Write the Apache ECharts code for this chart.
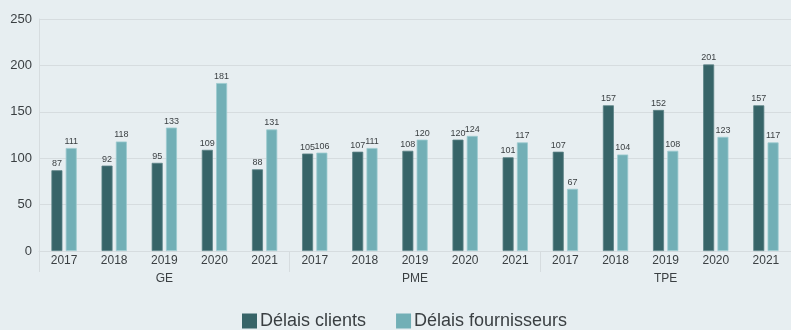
<!DOCTYPE html>
<html>
<head>
<meta charset="utf-8">
<script src="https://cdn.jsdelivr.net/npm/echarts@6/dist/echarts.min.js"></script>
<style>
  html, body { margin: 0; padding: 0; background: #e7eef1; }
  #chart { width: 791px; height: 330px; }
</style>
</head>
<body>
<div id="chart"></div>
<script>
// Company size groups and years
const groups = ['GE', 'PME', 'TPE'];
const years = ['2017', '2018', '2019', '2020', '2021'];
const yearLabels = [].concat(years, years, years);

// Payment delays (days), in order GE 2017..2021, PME 2017..2021, TPE 2017..2021
const delaisClients = [87, 92, 95, 109, 88, 105, 107, 108, 120, 101, 107, 157, 152, 201, 157];
const delaisFournisseurs = [111, 118, 133, 181, 131, 106, 111, 120, 124, 117, 67, 104, 108, 123, 117];

const yTicks = { min: 0, max: 250, interval: 50 };

const FONT = 'Liberation Sans';
const gridColor = '#d6dcdf';
const textColor = '#3a3f42';

const chart = echarts.init(document.getElementById('chart'), null, { renderer: 'canvas' });

const labelStyle = {
  show: true,
  position: 'top',
  distance: 2,
  fontSize: 9,
  fontFamily: FONT,
  color: textColor
};

chart.setOption({
  backgroundColor: '#e7eef1',
  animation: false,
  grid: { left: 39, top: 19, width: 764, height: 232 },
  legend: {
    left: 242,
    top: 312,
    padding: 0,
    itemWidth: 15,
    itemHeight: 15,
    itemGap: 30,
    icon: 'rect',
    itemStyle: { borderWidth: 0 },
    textStyle: { fontSize: 18, fontFamily: FONT, color: textColor, padding: [0, 0, 0, -2] },
    data: ['Délais clients', 'Délais fournisseurs']
  },
  xAxis: [
    {
      type: 'category',
      data: yearLabels,
      position: 'bottom',
      axisLine: { show: true, lineStyle: { color: gridColor, width: 1 } },
      axisTick: { show: false },
      axisLabel: { margin: 4, fontSize: 12, fontFamily: FONT, color: textColor, interval: 0 }
    },
    {
      type: 'category',
      data: groups,
      position: 'bottom',
      axisLine: { show: false },
      axisTick: { show: true, length: 21, alignWithLabel: false, lineStyle: { color: gridColor } },
      axisLabel: { margin: 22, fontSize: 12, fontFamily: FONT, color: textColor }
    }
  ],
  yAxis: {
    type: 'value',
    min: yTicks.min,
    max: yTicks.max,
    interval: yTicks.interval,
    axisLine: { show: true, lineStyle: { color: gridColor } },
    axisTick: { show: false },
    splitLine: { lineStyle: { color: gridColor } },
    axisLabel: { margin: 7, fontSize: 13, fontFamily: FONT, color: textColor }
  },
  series: [
    {
      name: 'Délais clients',
      type: 'bar',
      xAxisIndex: 0,
      data: delaisClients,
      barWidth: 11,
      barGap: '30%',
      itemStyle: { color: '#376468', borderColor: '#5a8185', borderWidth: 0.8 },
      label: labelStyle
    },
    {
      name: 'Délais fournisseurs',
      type: 'bar',
      xAxisIndex: 0,
      data: delaisFournisseurs,
      barWidth: 11,
      barGap: '30%',
      itemStyle: { color: '#72afb6', borderColor: '#9ccacf', borderWidth: 0.8 },
      label: labelStyle
    }
  ]
});
</script>
</body>
</html>
